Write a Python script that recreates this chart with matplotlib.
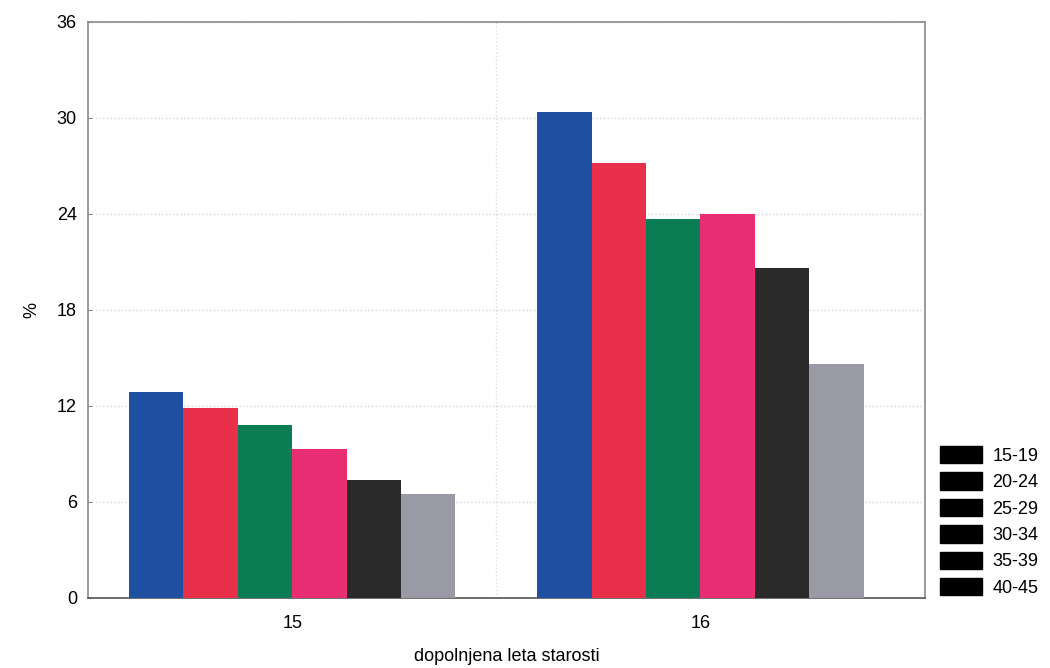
import numpy as np
import matplotlib.pyplot as plt
from matplotlib.patches import Patch

plt.rcParams['font.family'] = ['Liberation Sans', 'DejaVu Sans']

groups = [15, 16]
age_bands = ['15-19', '20-24', '25-29', '30-34', '35-39', '40-45']
values = {
    '15-19': [12.9, 30.4],
    '20-24': [11.9, 27.2],
    '25-29': [10.8, 23.7],
    '30-34': [9.3, 24.0],
    '35-39': [7.4, 20.6],
    '40-45': [6.5, 14.6],
}
colors = ['#1f4fa0', '#e8304a', '#0a7d55', '#e82d72', '#2a2a2a', '#9a99a6']

fig = plt.figure(figsize=(10.5, 6.68), dpi=100)
ax = fig.add_axes([88 / 1050, 70 / 668, (925 - 88) / 1050, (598 - 22) / 668])

x = np.array(groups, dtype=float)
width = 0.8 / len(age_bands)
for i, band in enumerate(age_bands):
    offset = (i - (len(age_bands) - 1) / 2) * width
    ax.bar(x + offset, values[band], width, color=colors[i], zorder=3)

ax.set_xlim(14.5, 16.55)
ax.set_ylim(0, 36)
ax.set_yticks(range(0, 37, 6))
ax.set_xticks(groups)
ax.set_xticklabels([str(g) for g in groups])
ax.axvline(15.5, color='#dddddd', linestyle=':', linewidth=1, zorder=1)
ax.grid(axis='y', color='#d4d4d4', linestyle=':', linewidth=1, zorder=1)

for s in ax.spines.values():
    s.set_color('#8a8a8a')
    s.set_linewidth(1.2)
ax.spines['bottom'].set_color('#555555')
ax.tick_params(axis='both', labelsize=13, length=3, direction='in', color='#8a8a8a')
ax.tick_params(axis='y', pad=8)
ax.tick_params(axis='x', length=0, pad=12)

ax.set_xlabel('dopolnjena leta starosti', fontsize=13, labelpad=12)
ax.set_ylabel('%', fontsize=13, labelpad=12)

handles = [Patch(facecolor='black', edgecolor='black') for _ in age_bands]
fig.legend(handles, age_bands, loc='lower left', bbox_to_anchor=(933 / 1050, 64 / 668),
           frameon=False, fontsize=13, handlelength=2.3, handleheight=1.1,
           labelspacing=0.42, handletextpad=0.6, borderaxespad=0)

fig.savefig('out.png', dpi=100)
